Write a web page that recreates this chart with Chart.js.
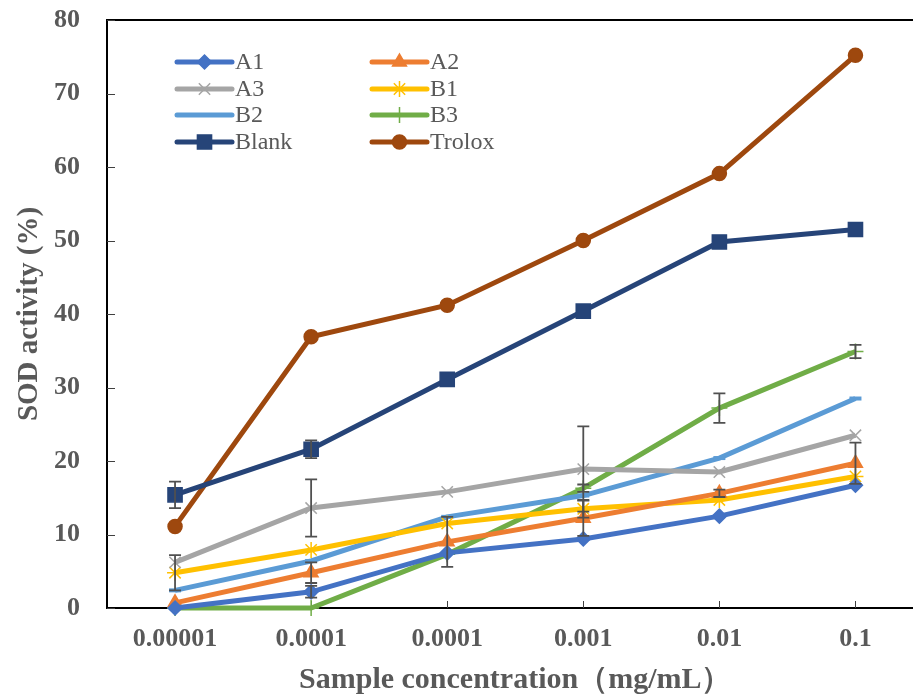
<!DOCTYPE html>
<html>
<head>
<meta charset="utf-8">
<script src="https://cdn.jsdelivr.net/npm/chart.js@4.4.1/dist/chart.umd.min.js"></script>
<style>
  html, body { margin: 0; padding: 0; overflow: hidden; background: #fff; width: 913px; height: 698px; }
  canvas { display: block; }
</style>
</head>
<body>
<canvas id="c" width="935" height="698"></canvas>
<script>
// Concentration categories (x axis) and y-axis tick values
const concentrations = ['0.00001', '0.0001', '0.0001', '0.001', '0.01', '0.1'];
const yTickValues = [0, 10, 20, 30, 40, 50, 60, 70, 80];

// SOD activity (%) per sample
const A1     = [0.0, 2.2, 7.5, 9.4, 12.5, 16.7];
const A2     = [0.7, 4.8, 9.0, 12.2, 15.6, 19.7];
const A3     = [6.2, 13.6, 15.8, 18.9, 18.5, 23.5];
const B1     = [4.8, 7.9, 11.5, 13.5, 14.7, 17.9];
const B2     = [2.4, 6.4, 12.4, 15.3, 20.4, 28.5];
const B3     = [0.0, 0.0, 7.3, 16.3, 27.2, 34.9];
const Blank  = [15.4, 21.6, 31.1, 40.4, 49.8, 51.5];
const Trolox = [11.1, 36.9, 41.2, 50.0, 59.1, 75.2];

// Standard deviations (error bars), 0 = none drawn
const errA1     = [0, 0.8, 0, 0, 0, 0];
const errA2     = [0, 1.4, 3.4, 2.4, 0.5, 2.8];
const errA3     = [0, 3.9, 0, 5.8, 0, 0];
const errB1     = [2.4, 0, 0, 1.2, 0, 0];
const errB2     = [0, 0, 0, 0, 0, 0];
const errB3     = [0, 0, 0, 0.5, 2.0, 0.9];
const errBlank  = [1.8, 1.2, 0, 0, 0, 0];
const errTrolox = [0, 0, 0, 0, 0, 0];

const TEXT = '#595959';
const SERIF = '"Liberation Serif", "Times New Roman", serif';

function series(label, data, err, color, pointStyle, radius) {
  return {
    label, data, err,
    borderColor: color, backgroundColor: color,
    pointBackgroundColor: color, pointBorderColor: color,
    pointStyle, pointRadius: radius, pointHoverRadius: radius,
    pointBorderWidth: pointStyle === 'line' ? 4 : 1.5,
    borderWidth: 5, tension: 0, clip: false, fill: false
  };
}

const datasets = [
  series('A1', A1, errA1, '#4472C4', 'rectRot', 7),
  series('A2', A2, errA2, '#ED7D31', 'triangle', 8),
  series('A3', A3, errA3, '#A5A5A5', 'crossRot', 8),
  series('B1', B1, errB1, '#FFC000', 'star', 8),
  series('B2', B2, errB2, '#5B9BD5', 'line', 6),
  series('B3', B3, errB3, '#70AD47', 'cross', 8),
  series('Blank', Blank, errBlank, '#264478', 'rect', 10),
  series('Trolox', Trolox, errTrolox, '#9E480E', 'circle', 7)
];

// Top frame line plus short inward tick marks on both axes
const frameTicks = {
  id: 'frameTicks',
  beforeDatasetsDraw(chart) {
    const { ctx, chartArea: a, scales: { x, y } } = chart;
    ctx.save();
    ctx.strokeStyle = '#000';
    ctx.lineWidth = 2;
    ctx.beginPath();
    ctx.moveTo(a.left - 1, a.top);
    ctx.lineTo(a.right + 10, a.top);
    ctx.stroke();
    ctx.strokeStyle = '#404040';
    ctx.lineWidth = 1;
    ctx.beginPath();
    yTickValues.forEach(v => {
      const py = Math.round(y.getPixelForValue(v)) + 0.5;
      ctx.moveTo(a.left, py); ctx.lineTo(a.left + 8, py);
    });
    concentrations.forEach((c, i) => {
      const px = Math.round(x.getPixelForValue(i)) + 0.5;
      ctx.moveTo(px, a.bottom); ctx.lineTo(px, a.bottom - 7);
    });
    ctx.stroke();
    ctx.restore();
  }
};

// Vertical error bars with caps
const errorBars = {
  id: 'errorBars',
  afterDatasetsDraw(chart) {
    const { ctx, scales: { x, y } } = chart;
    ctx.save();
    ctx.strokeStyle = '#505050';
    ctx.lineWidth = 1.8;
    chart.data.datasets.forEach(ds => {
      ds.data.forEach((v, i) => {
        const e = ds.err[i];
        if (!e) return;
        const px = x.getPixelForValue(i);
        const top = y.getPixelForValue(v + e);
        const bot = y.getPixelForValue(Math.max(0, v - e));
        ctx.beginPath();
        ctx.moveTo(px, top); ctx.lineTo(px, bot);
        ctx.moveTo(px - 6, top); ctx.lineTo(px + 6, top);
        if (v - e > 0) { ctx.moveTo(px - 6, bot); ctx.lineTo(px + 6, bot); }
        ctx.stroke();
      });
    });
    ctx.restore();
  }
};

// Two-column legend inside the plot area
const innerLegend = {
  id: 'innerLegend',
  afterDraw(chart) {
    const { ctx } = chart;
    const cols = [177, 372];
    const rowY = [62, 89, 115, 142];
    ctx.save();
    chart.data.datasets.forEach((ds, i) => {
      const x0 = cols[i % 2];
      const yy = rowY[Math.floor(i / 2)];
      ctx.strokeStyle = ds.borderColor;
      ctx.lineWidth = 5;
      ctx.lineCap = 'round';
      ctx.beginPath();
      ctx.moveTo(x0, yy); ctx.lineTo(x0 + 55, yy);
      ctx.stroke();
      if (ds.pointStyle !== 'line') {
        ctx.lineCap = 'butt';
        ctx.fillStyle = ds.backgroundColor;
        ctx.strokeStyle = ds.borderColor;
        ctx.lineWidth = ds.pointBorderWidth;
        Chart.helpers.drawPoint(ctx, {
          pointStyle: ds.pointStyle, radius: ds.pointRadius, rotation: 0,
          borderWidth: ds.pointBorderWidth
        }, x0 + 27.5, yy);
      }
      ctx.fillStyle = TEXT;
      ctx.font = '24px ' + SERIF;
      ctx.textBaseline = 'middle';
      ctx.textAlign = 'left';
      ctx.fillText(ds.label, x0 + 58, yy + 1);
    });
    ctx.restore();
  }
};

new Chart(document.getElementById('c'), {
  type: 'line',
  data: { labels: concentrations, datasets },
  plugins: [frameTicks, errorBars, innerLegend],
  options: {
    responsive: false,
    devicePixelRatio: 1,
    animation: false,
    layout: { padding: { left: 0, top: 20, right: 0, bottom: 0 } },
    plugins: { legend: { display: false }, tooltip: { enabled: false } },
    scales: {
      x: {
        type: 'category',
        offset: true,
        grid: { display: true, drawOnChartArea: false, drawTicks: false, offset: false },
        border: { display: true, color: '#000', width: 2 },
        ticks: { color: TEXT, font: { family: SERIF, size: 26, weight: 'bold' }, padding: 16, maxRotation: 0, autoSkip: false },
        title: {
          display: true, text: 'Sample concentration（mg/mL）', color: TEXT,
          font: { family: SERIF, size: 30, weight: 'bold' }, padding: { top: 0, bottom: 0 }
        },
        afterFit(scale) { scale.height = 90; scale.paddingLeft = 0; scale.paddingRight = 0; }
      },
      y: {
        min: 0, max: 80,
        afterBuildTicks(scale) { scale.ticks = yTickValues.map(v => ({ value: v })); },
        grid: { display: true, drawOnChartArea: false, drawTicks: false },
        border: { display: true, color: '#000', width: 2 },
        ticks: { color: TEXT, font: { family: SERIF, size: 26, weight: 'bold' }, padding: 27 },
        title: {
          display: true, text: 'SOD activity (%)', color: TEXT,
          font: { family: SERIF, size: 29, weight: 'bold' }, padding: { top: 12, bottom: 0 }
        },
        afterFit(scale) { scale.width = 107; scale.paddingTop = 0; scale.paddingBottom = 0; }
      }
    }
  }
});
</script>
</body>
</html>
